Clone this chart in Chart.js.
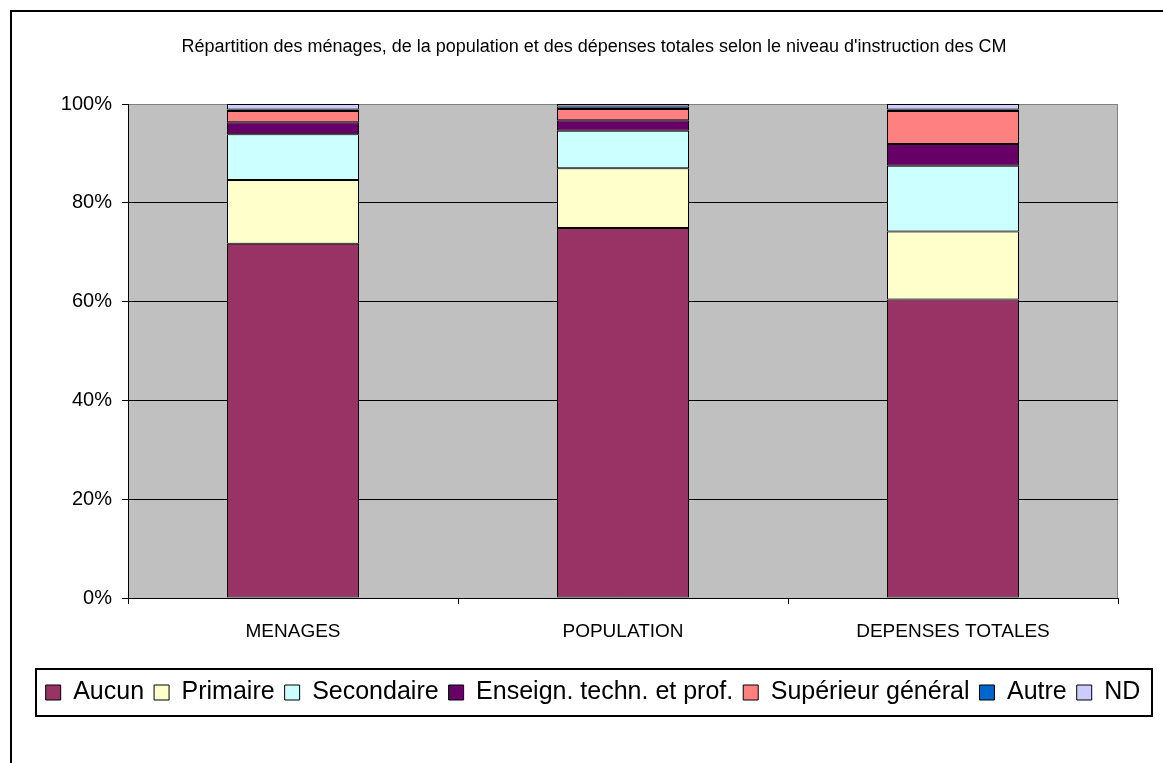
<!DOCTYPE html>
<html>
<head>
<meta charset="utf-8">
<script src="https://cdn.jsdelivr.net/npm/chart.js@4/dist/chart.umd.min.js"></script>
<style>
  html, body { margin: 0; padding: 0; background: #fff; }
  canvas { display: block; }
</style>
</head>
<body>
<canvas id="graphe" width="1163" height="763"></canvas>
<script>
// Données (en % du total de chaque colonne)
var categories = ['MENAGES', 'POPULATION', 'DEPENSES TOTALES'];
var aucun      = [71.7, 74.9, 60.4];
var primaire   = [12.9, 12.1, 13.8];
var secondaire = [9.3, 7.6, 13.3];
var enseign    = [2.4, 2.1, 4.4];
var superieur  = [2.3, 2.3, 6.7];
var autre      = [0.3, 0.5, 0.3];
var nd         = [1.1, 0.5, 1.1];
var yTicks     = [0, 20, 40, 60, 80, 100];

var S_titre = "Répartition des ménages, de la population et des dépenses totales selon le niveau d'instruction des CM";
var S_font = "'Liberation Sans', Arial, sans-serif";
var I_legendShift = 34;

function F_serie(label, data, color){
    return {
        label: label,
        data: data,
        backgroundColor: color,
        borderColor: '#000',
        borderWidth: 1,
        borderSkipped: false,
        categoryPercentage: 1,
        barPercentage: 0.4
    };
}

// fond gris + cadres + titre
var O_decor = {
    id: 'decor',
    beforeDraw: function(chart){
        var ctx = chart.ctx, a = chart.chartArea;
        var O_leg = chart.legend;
        if(O_leg && !O_leg._shifted){
            O_leg.left += I_legendShift;
            O_leg.right += I_legendShift;
            O_leg._shifted = true;
        }
        ctx.save();
        ctx.fillStyle = '#fff';
        ctx.fillRect(0, 0, chart.width, chart.height);
        ctx.fillStyle = '#C0C0C0';
        ctx.fillRect(a.left, a.top, a.right - a.left, a.bottom - a.top);
        ctx.strokeStyle = '#808080';
        ctx.lineWidth = 1;
        ctx.strokeRect(a.left + 0.5, a.top + 0.5, a.right - a.left - 1, a.bottom - a.top);
        // cadre extérieur
        ctx.strokeStyle = '#000';
        ctx.lineWidth = 2;
        ctx.beginPath();
        ctx.moveTo(11, chart.height);
        ctx.lineTo(11, 11);
        ctx.lineTo(chart.width, 11);
        ctx.stroke();
        // titre
        ctx.fillStyle = '#000';
        ctx.font = '18px ' + S_font;
        ctx.textAlign = 'center';
        ctx.textBaseline = 'middle';
        ctx.fillText(S_titre, 594, 47);
        ctx.restore();
    },
    afterDraw: function(chart){
        var O_leg = chart.legend;
        if(!O_leg || !O_leg.lineWidths) return;
        var I_pad = O_leg.options.labels.padding;
        var I_lw = O_leg.lineWidths[0];
        var I_x0 = (O_leg.left + I_pad + O_leg.right - I_lw) / 2;
        var I_mid = O_leg.top + O_leg.height / 2;
        var ctx = chart.ctx;
        ctx.save();
        ctx.strokeStyle = '#000';
        ctx.lineWidth = 2;
        ctx.strokeRect(Math.round(I_x0 - 10), Math.round(I_mid - 24), Math.round(I_lw - I_pad + 21), 47);
        ctx.restore();
    }
};

var O_ctx = document.getElementById('graphe').getContext('2d');
var O_graphe = new Chart(O_ctx, {
    type: 'bar',
    data: {
        labels: categories,
        datasets: [
            F_serie('Aucun', aucun, '#993366'),
            F_serie('Primaire', primaire, '#FFFFCC'),
            F_serie('Secondaire', secondaire, '#CCFFFF'),
            F_serie('Enseign. techn. et prof.', enseign, '#660066'),
            F_serie('Supérieur général', superieur, '#FF8080'),
            F_serie('Autre', autre, '#0066CC'),
            F_serie('ND', nd, '#CCCCFF')
        ]
    },
    options: {
        responsive: false,
        animation: false,
        devicePixelRatio: 1,
        layout: { padding: { left: 0, right: 45, top: 104, bottom: 48 } },
        scales: {
            x: {
                stacked: true,
                grid: { drawOnChartArea: false, offset: true, color: '#000', tickLength: 6, tickColor: '#000' },
                border: { color: '#000', width: 1 },
                ticks: { color: '#000', font: { family: S_font, size: 19 }, padding: 16 },
                afterFit: function(scale){ scale.height = 72; }
            },
            y: {
                stacked: true,
                min: 0,
                max: 100,
                afterBuildTicks: function(scale){
                    scale.ticks = yTicks.map(function(v){ return { value: v }; });
                },
                grid: {
                    color: function(c){ return c.tick && c.tick.value === 100 ? '#808080' : '#000'; },
                    tickColor: '#000',
                    tickLength: 6
                },
                border: { color: '#000', width: 1 },
                ticks: {
                    color: '#000',
                    font: { family: S_font, size: 20 },
                    padding: 10,
                    callback: function(v){ return v + '%'; }
                },
                afterFit: function(scale){ scale.width = 128; }
            }
        },
        plugins: {
            legend: {
                position: 'bottom',
                labels: {
                    color: '#000',
                    font: { family: S_font, size: 25 },
                    boxWidth: 15,
                    boxHeight: 15,
                    padding: 10
                }
            },
            tooltip: { enabled: false },
            title: { display: false }
        }
    },
    plugins: [O_decor]
});
</script>
</body>
</html>
